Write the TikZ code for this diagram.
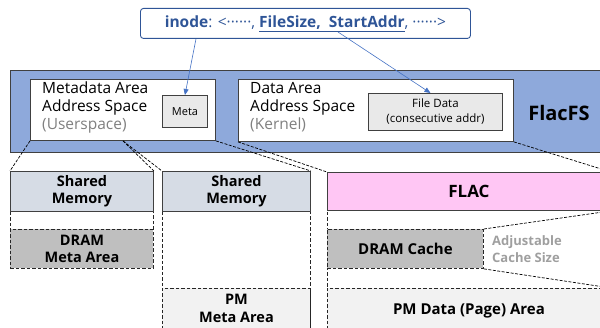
\documentclass[tikz,border=0pt]{standalone}
\usepackage{fontspec}
\setmainfont{Open Sans}
\usepackage{tikz}
\usetikzlibrary{arrows.meta,calc}

\definecolor{bandblue}{RGB}{142,169,219}
\definecolor{shmgray}{RGB}{214,220,229}
\definecolor{flacpink}{RGB}{255,198,244}
\definecolor{dramgray}{RGB}{191,191,191}
\definecolor{pmgray}{RGB}{242,242,242}
\definecolor{inodeblue}{RGB}{47,85,151}
\definecolor{arrowblue}{RGB}{68,114,196}
\definecolor{edgegray}{RGB}{64,64,64}

\newcommand{\fs}[2]{\fontsize{#1}{#2}\selectfont}

\begin{document}
\begin{tikzpicture}[x=1pt,y=-1pt,
    box/.style={draw=edgegray,line width=0.9pt,anchor=north west,inner sep=0pt,align=center},
    dbox/.style={box,draw=black!85,dash pattern=on 3.5pt off 2pt},
    label/.style={font=\fs{14.5}{17.5}\bfseries},
    link/.style={black,line width=0.7pt,dash pattern=on 3pt off 1.5pt},
    ptr/.style={arrowblue,line width=0.6pt,-{Triangle[length=6pt,width=5pt]}}
]
\useasboundingbox (0,0) rectangle (600,328);
\clip (0,0) rectangle (600,328);

% inode
\node[draw=inodeblue,line width=0.9pt,rounded corners=3pt,anchor=north west,
      minimum width=330,minimum height=30,inner sep=0pt,text=inodeblue,font=\fs{15.5}{17}]
  (inode) at (140,8) {\textbf{inode}: <······, \underline{\textbf{FileSize,\ \ StartAddr}}, ······>};
\coordinate (sa) at (338,32);

% FlacFS band
\node[box,fill=bandblue,minimum width=600,minimum height=82] (band) at (10,70) {};
\node[font=\fs{20}{22}\bfseries] (flacfs) at (559,113) {FlacFS};

% Metadata area
\node[box,fill=white,minimum width=185,minimum height=61] (metaarea) at (30,79) {};
\node[anchor=north west,align=left,inner sep=0pt,font=\fs{15.5}{18}] (metatxt) at (42,82)
  {Metadata Area\\Address Space\\\textcolor{gray}{(Userspace)}};
\node[box,fill=pmgray!80!gray!60,minimum width=45,minimum height=32,font=\fs{11}{13}] (meta) at (162,95) {Meta};

% Data area
\node[box,fill=white,minimum width=275,minimum height=62] (dataarea) at (238,79) {};
\node[anchor=north west,align=left,inner sep=0pt,font=\fs{15.5}{18}] (datatxt) at (250,82)
  {Data Area\\Address Space\\\textcolor{gray}{(Kernel)}};
\node[box,fill=pmgray!80!gray!60,minimum width=134,minimum height=37,font=\fs{11.5}{15}] (filedata) at (368,93)
  {File Data\\(consecutive addr)};

% Pointers
\draw[ptr] ([xshift=56]inode.south west) -- (meta.north);
\draw[ptr] (sa) -- ([xshift=-5]filedata.north);

% Column 1
\node[dbox,minimum width=143,minimum height=97] (col1) at (10,171) {};
\node[box,label,fill=shmgray,minimum width=143,minimum height=40] (shm1) at (10,171) {Shared\\Memory};
\node[dbox,label,fill=dramgray,minimum width=143,minimum height=39] (drammeta) at (10,229) {DRAM\\Meta Area};

% Column 2
\node[dbox,minimum width=148,minimum height=170] (col2) at (162,171) {};
\node[box,label,fill=shmgray,minimum width=148,minimum height=40] (shm2) at (162,171) {Shared\\Memory};
\node[dbox,label,fill=pmgray,minimum width=148,minimum height=40] (pmmeta) at (162,288) {PM\\Meta Area};

% Column 3
\node[dbox,minimum width=283,minimum height=170] (col3) at (327,172) {};
\node[box,fill=flacpink,minimum width=283,minimum height=38,font=\fs{17}{20}\bfseries] (flac) at (327,172) {FLAC};
\node[dbox,fill=dramgray,minimum width=156,minimum height=39,font=\fs{15}{18}\bfseries] (dramcache) at (327,229) {DRAM Cache};
\node[dbox,fill=pmgray,minimum width=283,minimum height=45,font=\fs{15}{18}\bfseries] (pmdata) at (327,288) {\raisebox{4pt}{PM Data (Page) Area}};
\node[anchor=west,align=left,inner sep=0pt,text=gray!75,font=\fs{13}{17}\bfseries] (adjust) at (492,249)
  {Adjustable\\Cache Size};

% Mapping lines
\draw[link] (metaarea.south west) -- (shm1.north west);
\draw[link] ([xshift=93]metaarea.south west) -- (shm1.north east);
\draw[link] ([xshift=93]metaarea.south west) -- (shm2.north west);
\draw[link] (metaarea.south east) -- (shm2.north east);
\draw[link] (dataarea.south west) -- (flac.north west);
\draw[link] (dataarea.south east) -- (flac.north east);
\draw[link] (dramcache.north east) -- (flac.south east);
\draw[link] (dramcache.south east) -- (pmdata.north east);

\end{tikzpicture}
\end{document}
